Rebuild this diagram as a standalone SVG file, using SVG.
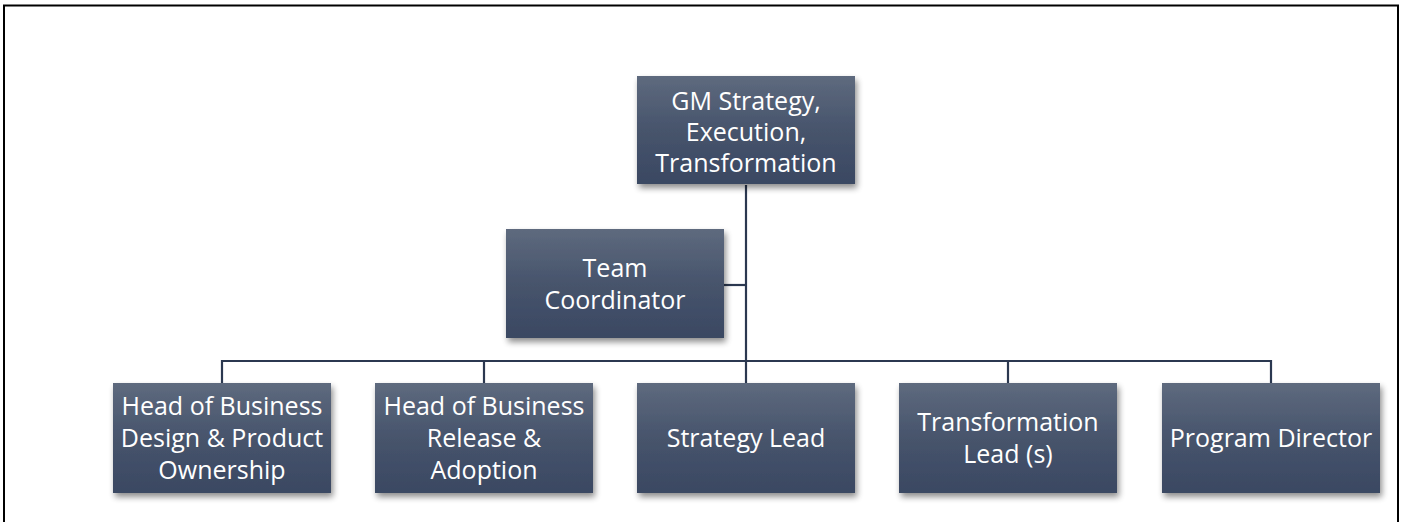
<svg xmlns="http://www.w3.org/2000/svg" width="1403" height="522" viewBox="0 0 1403 522">
  <style>
    .box { fill: url(#boxGrad); filter: url(#shadow); }
    .lbl { font-family: "Open Sans", "Noto Sans", "Liberation Sans", sans-serif; font-size: 25px; fill: #ffffff; text-anchor: middle; dominant-baseline: central; }
    .wire { fill: none; stroke: #2b3850; stroke-width: 2.2; }
  </style>
  <defs>
    <linearGradient id="boxGrad" x1="0" y1="0" x2="0" y2="1">
      <stop offset="0" stop-color="#5e6a7e"/>
      <stop offset="0.5" stop-color="#47546c"/>
      <stop offset="1" stop-color="#3a4862"/>
    </linearGradient>
    <filter id="shadow" x="-10%" y="-10%" width="125%" height="130%">
      <feGaussianBlur in="SourceAlpha" stdDeviation="3"/>
      <feOffset dx="2" dy="4" result="b"/>
      <feComponentTransfer><feFuncA type="linear" slope="0.45"/></feComponentTransfer>
      <feMerge><feMergeNode/><feMergeNode in="SourceGraphic"/></feMerge>
    </filter>
  </defs>
  <rect width="1403" height="522" fill="#ffffff"/>
  <!-- outer frame (open at the bottom) -->
  <path d="M4,522 V5.5 H1398 V522" fill="none" stroke="#000000" stroke-width="2"/>

  <g id="connectors">
    <path class="wire" d="M746,185 V383"/>
    <path class="wire" d="M724,285 H746"/>
    <path class="wire" d="M222,383 V361 H1271 V383"/>
    <path class="wire" d="M484,361 V383"/>
    <path class="wire" d="M1008,361 V383"/>
  </g>

  <g id="gm">
    <rect class="box" x="637" y="76" width="218" height="108"/>
    <text class="lbl" x="746" y="100">GM Strategy,</text>
    <text class="lbl" x="746" y="131">Execution,</text>
    <text class="lbl" x="746" y="162">Transformation</text>
  </g>
  <g id="coordinator">
    <rect class="box" x="506" y="229" width="218" height="109"/>
    <text class="lbl" x="615" y="267">Team</text>
    <text class="lbl" x="615" y="299">Coordinator</text>
  </g>
  <g id="design">
    <rect class="box" x="113" y="383" width="218" height="110"/>
    <text class="lbl" x="222" y="405">Head of Business</text>
    <text class="lbl" x="222" y="437">Design &amp; Product</text>
    <text class="lbl" x="222" y="469">Ownership</text>
  </g>
  <g id="release">
    <rect class="box" x="375" y="383" width="218" height="110"/>
    <text class="lbl" x="484" y="405">Head of Business</text>
    <text class="lbl" x="484" y="437">Release &amp;</text>
    <text class="lbl" x="484" y="469">Adoption</text>
  </g>
  <g id="strategy">
    <rect class="box" x="637" y="383" width="218" height="110"/>
    <text class="lbl" x="746" y="437">Strategy Lead</text>
  </g>
  <g id="transformation">
    <rect class="box" x="899" y="383" width="218" height="110"/>
    <text class="lbl" x="1008" y="421">Transformation</text>
    <text class="lbl" x="1008" y="453">Lead (s)</text>
  </g>
  <g id="program">
    <rect class="box" x="1162" y="383" width="218" height="110"/>
    <text class="lbl" x="1271" y="437">Program Director</text>
  </g>
</svg>
